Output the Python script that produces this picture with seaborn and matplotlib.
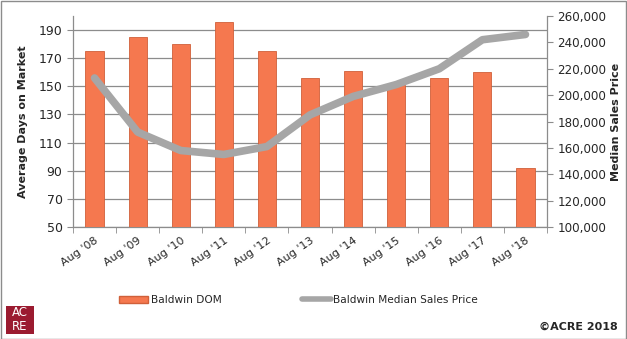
import matplotlib
matplotlib.use("Agg")
import matplotlib.pyplot as plt
import seaborn as sns
import pandas as pd
from matplotlib.patches import Rectangle, Patch
from matplotlib.lines import Line2D
from matplotlib.ticker import FuncFormatter

years = ["Aug '08", "Aug '09", "Aug '10", "Aug '11", "Aug '12", "Aug '13",
         "Aug '14", "Aug '15", "Aug '16", "Aug '17", "Aug '18"]
dom = [175, 185, 180, 196, 175, 156, 161, 151, 156, 160, 92]
price = [213000, 172000, 158000, 155000, 161000, 185000, 199000, 208000, 220000, 242000, 246000]

df = pd.DataFrame({"year": years, "dom": dom, "price": price})

sns.set_style("white")
plt.rcParams['font.family'] = ['DejaVu Sans']

fig = plt.figure(figsize=(6.27, 3.39), dpi=100)
fig.patch.set_facecolor("white")
ax = fig.add_axes([73/627, 1-227/339, (547-73)/627, (227-16)/339])

bar_color = "#F5784F"
sns.barplot(data=df, x="year", y="dom", ax=ax, color=bar_color, width=0.42,
            edgecolor="#D0603A", linewidth=0.6, saturation=1, zorder=3)

ax.set_ylim(50, 200)
ax.set_yticks(range(50, 200, 20))
ax.grid(axis="y", color="#8C8C8C", linewidth=0.9, zorder=0)
ax.set_axisbelow(True)
ax.set_xlim(-0.5, len(years) - 0.5)
for s in ["top", "right"]:
    ax.spines[s].set_visible(False)
for s in ["left", "bottom"]:
    ax.spines[s].set_color("#8C8C8C")
    ax.spines[s].set_linewidth(0.9)
ax.set_xticks([i + 0.5 for i in range(-1, len(years))], minor=True)
ax.set_xticks(range(len(years)))
ax.set_xticklabels(years, rotation=35, ha="right", rotation_mode="anchor", fontsize=8)
ax.tick_params(axis="x", which="major", length=0, pad=6)
ax.tick_params(axis="x", which="minor", length=4, color="#8C8C8C", direction="out", bottom=True)
ax.tick_params(axis="y", length=4, color="#8C8C8C", direction="out", left=True, labelsize=9)
ax.set_xlabel("")
ax.set_ylabel("Average Days on Market", fontsize=8, fontweight="bold", labelpad=8)

ax2 = ax.twinx()
sns.lineplot(data=df, x="year", y="price", ax=ax2, color="#A6A6A6", linewidth=5.5,
             sort=False, zorder=4)
ax2.set_ylim(100000, 260000)
ax2.set_yticks(range(100000, 260001, 20000))
ax2.yaxis.set_major_formatter(FuncFormatter(lambda v, p: f"{int(v):,}"))
for s in ["top", "left", "bottom"]:
    ax2.spines[s].set_visible(False)
ax2.spines["right"].set_color("#8C8C8C")
ax2.spines["right"].set_linewidth(0.9)
ax2.tick_params(axis="y", length=4, color="#8C8C8C", direction="out", right=True, labelsize=8.6)
ax2.set_ylabel("Median Sales Price", fontsize=8, fontweight="bold", rotation=90, labelpad=3)
ax2.set_xlabel("")
ax2.set_xlim(-0.5, len(years) - 0.5)

handles = [Patch(facecolor=bar_color, edgecolor="#D0603A", label="Baldwin DOM"),
           Line2D([0], [0], color="#A6A6A6", linewidth=4, label="Baldwin Median Sales Price")]
fig.legend(handles=handles, loc="center", bbox_to_anchor=(0.476, 1-300/339), ncol=2,
           frameon=False, fontsize=7.6, columnspacing=7.6, handlelength=2.8, handletextpad=0.2)

# ACRE logo
fig.patches.append(Rectangle((6/627, 1-334/339), 28/627, 28/339, transform=fig.transFigure,
                             facecolor="#9B1B30", edgecolor="none"))
fig.text(20/627, 1-313/339, "AC", color="white", fontsize=8.5, ha="center", va="center")
fig.text(20/627, 1-326/339, "RE", color="white", fontsize=8.5, ha="center", va="center")
fig.text(618/627, 1-327/339, "©ACRE 2018", fontsize=8, fontweight="bold", ha="right", va="center")

# figure border
fig.patches.append(Rectangle((0.5/627, 0.5/339), 625.5/627, 337.5/339, transform=fig.transFigure,
                             facecolor="none", edgecolor="#8C8C8C", linewidth=1))

fig.savefig("out.png", dpi=100)
